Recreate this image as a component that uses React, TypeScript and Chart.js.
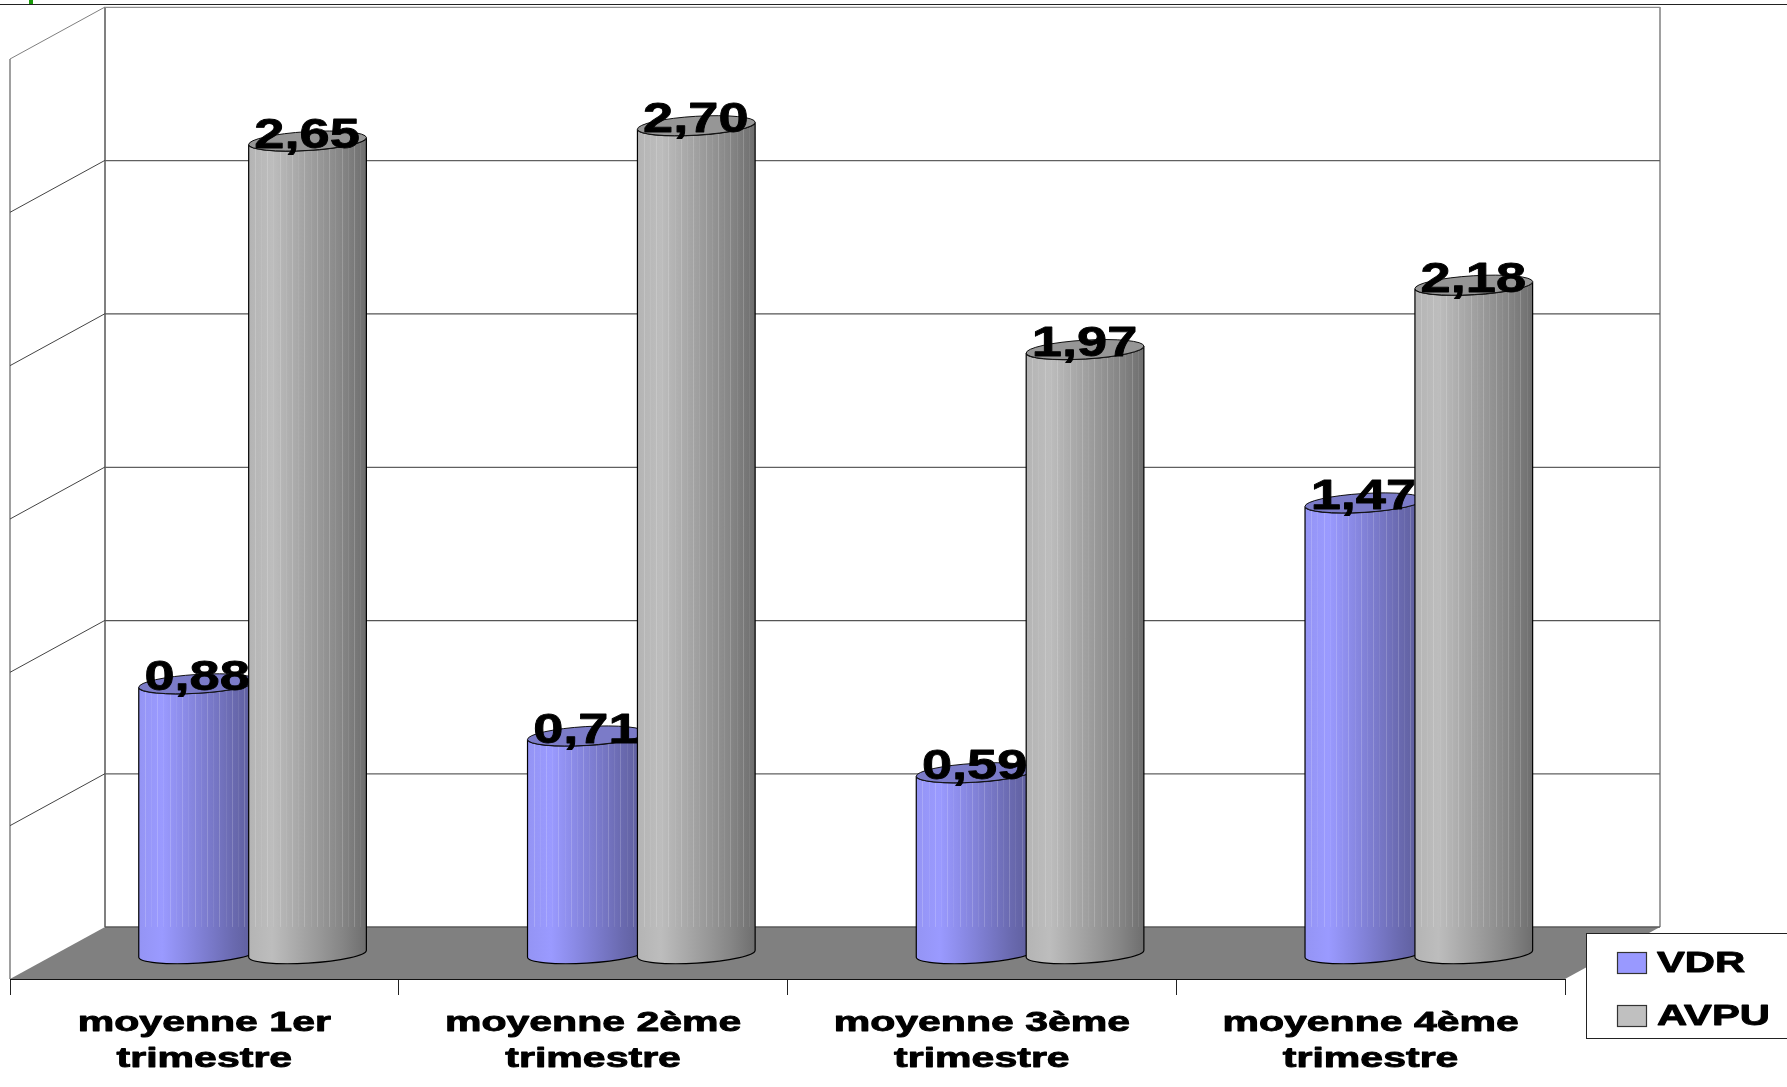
import React, { useEffect, useRef } from "react";
import { Chart, registerables } from "chart.js";

Chart.register(...registerables);

const categories = [
  ["moyenne 1er", "trimestre"],
  ["moyenne 2ème", "trimestre"],
  ["moyenne 3ème", "trimestre"],
  ["moyenne 4ème", "trimestre"],
];
const vdrValues = [0.88, 0.71, 0.59, 1.47];
const avpuValues = [2.65, 2.7, 1.97, 2.18];
const valueLabels = (v: number) => v.toFixed(2).replace(".", ",");

const FONT = '"Liberation Sans", Arial, sans-serif';
const DEPTH_X = 95;
const DEPTH_Y = 52;
const BAR_DX = 48.2;
const BAR_DY = 25.3;
const TILT = -0.06;
const RY = 9.4;

const SERIES_STYLE: any = {
  VDR: { stops: ["#9494f4", "#9a9aff", "#8a8ae6", "#7a7acb", "#6a6ab0", "#5c5c99"], top: "#7b7bc8", swatch: "#9999ff" },
  AVPU: { stops: ["#b4b4b4", "#bdbdbd", "#aaaaaa", "#989898", "#858585", "#6e6e6e"], top: "#969696", swatch: "#c0c0c0" },
};

function stretchedText(ctx: any, text: string, x: number, y: number, size: number, sx: number, align = "center", heavy = 0.9) {
  ctx.save();
  ctx.translate(x, y);
  ctx.scale(sx, 1);
  ctx.font = `bold ${size}px ${FONT}`;
  ctx.textAlign = align;
  ctx.textBaseline = "middle";
  ctx.fillStyle = "#000";
  ctx.strokeStyle = "#000";
  ctx.lineWidth = heavy;
  ctx.lineJoin = "round";
  ctx.fillText(text, 0, 0);
  ctx.strokeText(text, 0, 0);
  ctx.restore();
}

function line(ctx: any, x1: number, y1: number, x2: number, y2: number, color: string, w = 1) {
  ctx.strokeStyle = color;
  ctx.lineWidth = w;
  ctx.beginPath();
  ctx.moveTo(x1, y1);
  ctx.lineTo(x2, y2);
  ctx.stroke();
}

const sceneBack = {
  id: "sceneBack",
  beforeDraw(chart: any) {
    const { ctx, width } = chart;
    ctx.save();
    ctx.fillStyle = "#fff";
    ctx.fillRect(0, 0, chart.width, chart.height);
    // top edge of the slide
    line(ctx, 0, 4.5, width, 4.5, "#222", 1.2);
    ctx.fillStyle = "#1a9a0a";
    ctx.fillRect(29, 0, 4, 4);
    ctx.restore();
  },
  beforeDatasetsDraw(chart: any) {
    const { ctx, scales } = chart;
    const y = scales.y;
    const x = scales.x;
    const l = x.left, r = x.right;
    const y0 = y.getPixelForValue(0);
    const yMax = y.getPixelForValue(y.max);
    ctx.save();
    // walls
    line(ctx, l, yMax, l, y0, "#808080", 1.5);
    line(ctx, l + DEPTH_X, yMax - DEPTH_Y, l + DEPTH_X, y0 - DEPTH_Y, "#808080", 2);
    line(ctx, r + DEPTH_X, yMax - DEPTH_Y, r + DEPTH_X, y0 - DEPTH_Y, "#808080", 1.5);
    // gridlines
    y.ticks.forEach((t: any) => {
      const py = y.getPixelForValue(t.value);
      if (t.value === 0) return;
      const c = t.value === y.max ? "#909090" : t.value % 1 === 0 ? "#555" : "#606060";
      line(ctx, l, py, l + DEPTH_X, py - DEPTH_Y, t.value === y.max ? "#808080" : "#444", 1);
      line(ctx, l + DEPTH_X, py - DEPTH_Y + 0.3, r + DEPTH_X, py - DEPTH_Y + 0.3, c, 1.2);
    });
    // floor
    ctx.fillStyle = "#808080";
    ctx.beginPath();
    ctx.moveTo(l, y0);
    ctx.lineTo(r, y0);
    ctx.lineTo(r + DEPTH_X, y0 - DEPTH_Y);
    ctx.lineTo(l + DEPTH_X, y0 - DEPTH_Y);
    ctx.closePath();
    ctx.fill();
    line(ctx, l + DEPTH_X, y0 - DEPTH_Y, r + DEPTH_X, y0 - DEPTH_Y, "#5a5a5a", 1.5);
    ctx.restore();
  },
};

function cylinder(ctx: any, el: any, style: any, floorY: number) {
  const cx = el.x + BAR_DX;
  const rx = el.width / 2;
  const yt = el.y - BAR_DY;
  const yb = el.base - BAR_DY;
  const x0 = cx - rx;
  const x1 = cx + rx;
  const g = ctx.createLinearGradient(x0, 0, x1, 0);
  style.stops.forEach((c: string, i: number) => g.addColorStop(i / (style.stops.length - 1), c));
  const body = () => {
    ctx.beginPath();
    ctx.ellipse(cx, yb, rx, RY, TILT, 0, Math.PI);
    ctx.ellipse(cx, yt, rx, RY, TILT, Math.PI, 0, true);
    ctx.closePath();
  };
  ctx.save();
  body();
  ctx.fillStyle = g;
  ctx.fill();
  // facet seams of the rendered cylinder
  ctx.save();
  body();
  ctx.clip();
  for (let i = 1; i < 19; i++) {
    const sx = Math.round(x0 + (el.width * i) / 19) + 0.5;
    ctx.strokeStyle = i % 2 ? "rgba(255,255,255,0.18)" : "rgba(255,255,255,0.08)";
    ctx.lineWidth = 1;
    ctx.beginPath();
    ctx.moveTo(sx, yt);
    ctx.lineTo(sx, floorY);
    ctx.stroke();
  }
  ctx.restore();
  body();
  ctx.strokeStyle = "#000";
  ctx.lineWidth = 1.2;
  ctx.stroke();
  ctx.beginPath();
  ctx.ellipse(cx, yt, rx, RY, TILT, 0, Math.PI * 2);
  ctx.fillStyle = style.top;
  ctx.fill();
  ctx.strokeStyle = "#111";
  ctx.lineWidth = 1;
  ctx.stroke();
  ctx.restore();
}

const sceneFront = {
  id: "sceneFront",
  afterDatasetsDraw(chart: any) {
    const { ctx, scales } = chart;
    const x = scales.x, y = scales.y;
    const floorY = y.getPixelForValue(0) - DEPTH_Y;
    chart.data.labels.forEach((_: any, i: number) => {
      chart.data.datasets.forEach((ds: any, d: number) => {
        const el = chart.getDatasetMeta(d).data[i];
        cylinder(ctx, el, SERIES_STYLE[ds.label], floorY);
      });
    });
    // value labels
    chart.data.labels.forEach((_: any, i: number) => {
      chart.data.datasets.forEach((ds: any, d: number) => {
        const el = chart.getDatasetMeta(d).data[i];
        stretchedText(ctx, valueLabels(ds.data[i]), el.x + BAR_DX - 0.5, el.y - BAR_DY - 5, 42, 1.29, "center", 0.8);
      });
    });
    // category labels, centred on the front edge of the floor
    chart.data.labels.forEach((lab: string[], i: number) => {
      const cx = x.getPixelForTick(i);
      stretchedText(ctx, lab[0], cx, 1023.5, 28, 1.465);
      stretchedText(ctx, lab[1], cx, 1059.5, 28, 1.465);
    });
    // legend
    ctx.save();
    ctx.fillStyle = "#fff";
    ctx.fillRect(1586.5, 933.5, 210, 105);
    ctx.strokeStyle = "#222";
    ctx.lineWidth = 1;
    ctx.strokeRect(1586.5, 933.5, 210, 105);
    chart.data.datasets.forEach((ds: any, d: number) => {
      const top = 952 + d * 53;
      ctx.fillStyle = SERIES_STYLE[ds.label].swatch;
      ctx.fillRect(1617.5, top + 0.5, 29, 21);
      ctx.strokeStyle = "#333";
      ctx.lineWidth = 1.2;
      ctx.strokeRect(1617.5, top + 0.5, 29, 21);
      stretchedText(ctx, ds.label, 1657, top + 12, 29, 1.44, "left");
    });
    ctx.restore();
  },
};

export default function App() {
  const ref = useRef<HTMLCanvasElement>(null);
  useEffect(() => {
    const chart = new Chart(ref.current as any, {
      type: "bar",
      data: {
        labels: categories as any,
        datasets: [
          { label: "VDR", data: vdrValues, backgroundColor: "rgba(0,0,0,0)", categoryPercentage: 0.5655, barPercentage: 1.0727 },
          { label: "AVPU", data: avpuValues, backgroundColor: "rgba(0,0,0,0)", categoryPercentage: 0.5655, barPercentage: 1.0727 },
        ],
      },
      options: {
        responsive: false,
        animation: false,
        layout: { padding: { left: 10, right: 222, top: 59, bottom: 0 } },
        plugins: { legend: { display: false }, tooltip: { enabled: false }, title: { display: false } },
        scales: {
          x: {
            afterFit: (s: any) => { s.height = 108; },
            ticks: { display: false },
            border: { color: "#111", width: 1 },
            grid: { offset: true, drawOnChartArea: false, drawTicks: true, tickLength: 16, color: "#222" },
          },
          y: {
            min: 0,
            max: 3,
            afterFit: (s: any) => { s.width = 0; },
            ticks: { display: false, stepSize: 0.5 },
            border: { display: false },
            grid: { display: false },
          },
        },
      },
      plugins: [sceneBack, sceneFront],
    } as any);
    return () => chart.destroy();
  }, []);
  return (
    <div style={{ position: "absolute", left: 0, top: 0, width: 1787, height: 1087, overflow: "hidden", background: "#fff" }}>
      <canvas ref={ref} width={1787} height={1087} style={{ display: "block" }} />
    </div>
  );
}
